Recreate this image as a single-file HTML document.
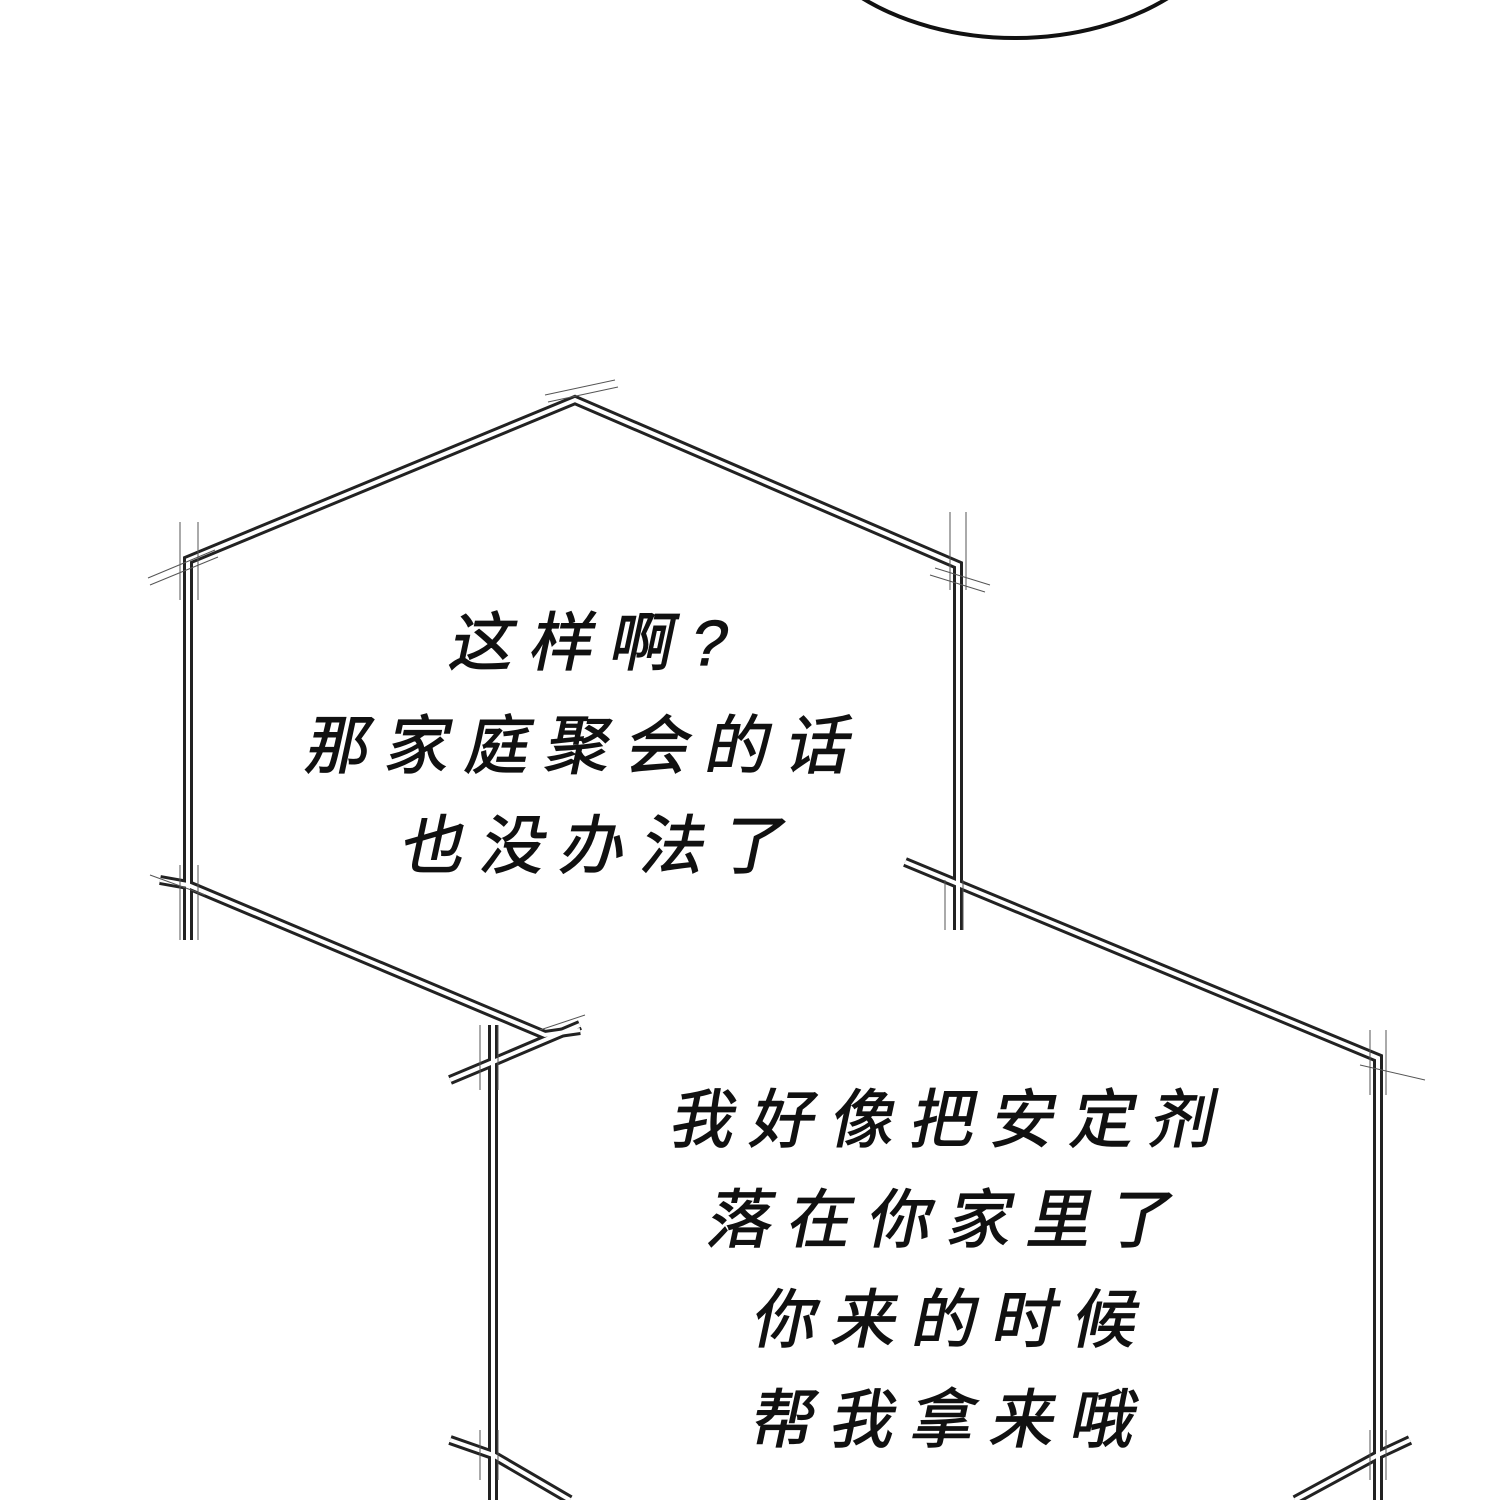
<!DOCTYPE html>
<html><head><meta charset="utf-8"><style>
html,body{margin:0;padding:0;background:#fff;}
svg{display:block}
text{font-family:"Liberation Sans","Noto Sans CJK SC",sans-serif;font-size:64px;fill:#111;stroke:#111;stroke-width:1.2;letter-spacing:16px}
</style></head><body>
<svg width="1500" height="1500" viewBox="0 0 1500 1500" xmlns="http://www.w3.org/2000/svg">
<ellipse cx="1015" cy="-120" rx="230" ry="158" fill="none" stroke="#111" stroke-width="4"/>
<g id="lines" fill="none" stroke-linejoin="miter">
  <g stroke="#222" stroke-width="10">
    <polyline points="188,940 188,560 575,400 958,565 958,930"/>
    <polyline points="160,880 188,885 545,1035 580,1030"/>
    <polyline points="493,1025 493,1500"/>
    <polyline points="905,862 1378,1058 1378,1500"/>
    <polyline points="450,1440 493,1455 570,1500"/>
    <polyline points="1410,1440 1378,1455 1295,1500"/>
    <polyline points="450,1080 493,1062 580,1025"/>
  </g>
  <g stroke="#fff" stroke-width="4">
    <polyline points="188,940 188,560 575,400 958,565 958,930"/>
    <polyline points="160,880 188,885 545,1035 580,1030"/>
    <polyline points="493,1025 493,1500"/>
    <polyline points="905,862 1378,1058 1378,1500"/>
    <polyline points="450,1440 493,1455 570,1500"/>
    <polyline points="1410,1440 1378,1455 1295,1500"/>
    <polyline points="450,1080 493,1062 580,1025"/>
  </g>
</g>
<g stroke="#555" stroke-width="1" fill="none">
  <path d="M545,395 L615,380 M548,402 L618,387 M148,578 L215,550 M150,585 L218,557 M180,522 L180,600 M198,522 L198,600 M950,512 L950,590 M966,512 L966,590 M935,568 L990,585 M930,575 L985,592 M180,865 L180,940 M198,865 L198,940 M150,875 L205,895 M945,880 L945,930 M963,880 L963,930 M480,1025 L480,1090 M498,1025 L498,1090 M540,1030 L585,1015 M1370,1030 L1370,1095 M1386,1030 L1386,1095 M1360,1065 L1425,1080 M480,1430 L480,1480 M498,1430 L498,1480 M1370,1430 L1370,1480 M1386,1430 L1386,1480"/>
</g>
<g text-anchor="middle">
  <text transform="translate(593,665) skewX(-12)">这样啊?</text>
  <text transform="translate(583,768) skewX(-12)">那家庭聚会的话</text>
  <text transform="translate(598,868) skewX(-12)">也没办法了</text>
  <text transform="translate(948,1142) skewX(-12)">我好像把安定剂</text>
  <text transform="translate(945,1242) skewX(-12)">落在你家里了</text>
  <text transform="translate(950,1342) skewX(-12)">你来的时候</text>
  <text transform="translate(948,1442) skewX(-12)">帮我拿来哦</text>
</g>
</svg>
</body></html>
